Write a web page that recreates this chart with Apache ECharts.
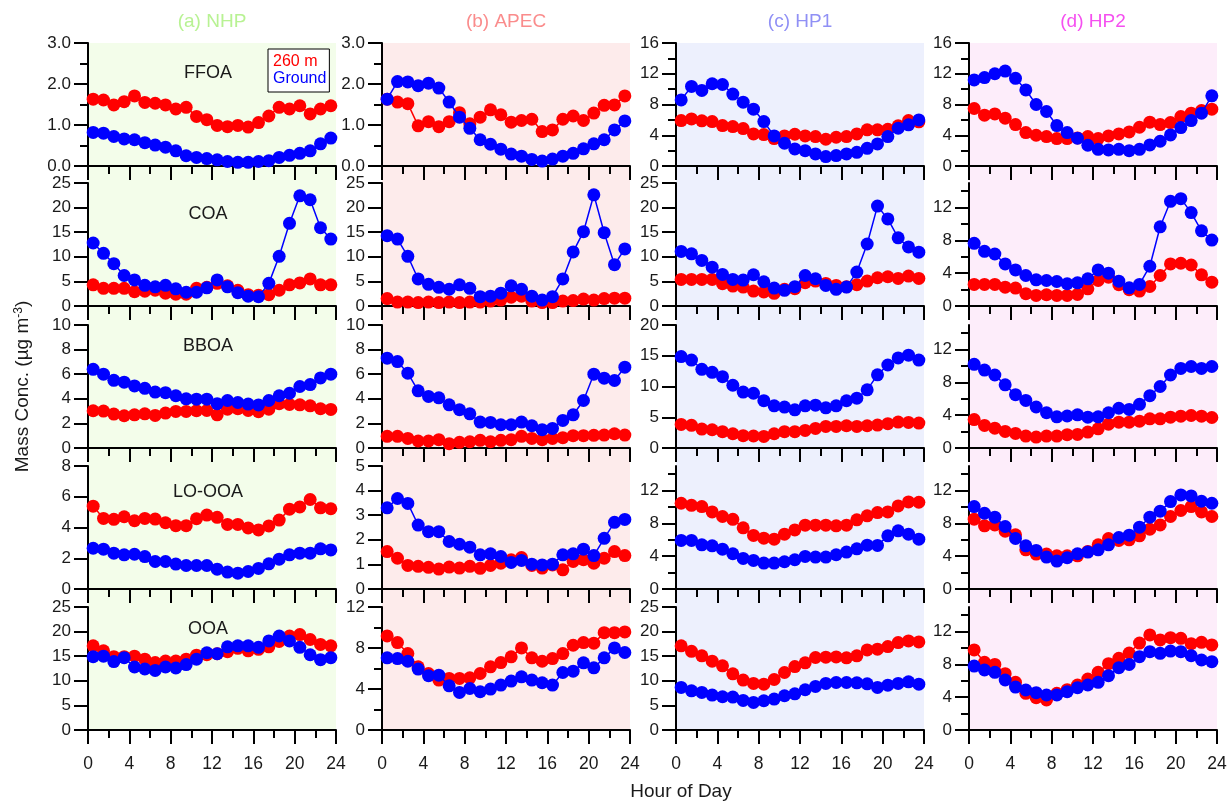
<!DOCTYPE html>
<html><head><meta charset="utf-8">
<script src="https://cdn.jsdelivr.net/npm/echarts@6/dist/echarts.min.js"></script>
<style>html,body{margin:0;padding:0;background:#fff}#c{width:1232px;height:801px}</style>
</head><body><div id="c"></div>
<script>
// ---------------- data ----------------
const hours = [0.5,1.5,2.5,3.5,4.5,5.5,6.5,7.5,8.5,9.5,10.5,11.5,12.5,13.5,14.5,15.5,16.5,17.5,18.5,19.5,20.5,21.5,22.5,23.5];
const siteNames = ['(a) NHP','(b) APEC','(c) HP1','(d) HP2'];
const factorNames = ['FFOA','COA','BBOA','LO-OOA','OOA'];
const seriesNames = ['260 m','Ground'];
const xMajorTicks = [0,4,8,12,16,20,24];
const xMinorTicks = [2,6,10,14,18,22];

// NHP
const NHP_FFOA_260 = [1.63,1.61,1.49,1.57,1.71,1.55,1.53,1.49,1.39,1.43,1.21,1.13,0.99,0.96,0.99,0.95,1.06,1.22,1.43,1.39,1.47,1.27,1.39,1.47];
const NHP_FFOA_GRD = [0.82,0.80,0.72,0.66,0.64,0.57,0.51,0.46,0.37,0.25,0.21,0.18,0.15,0.11,0.09,0.09,0.11,0.13,0.21,0.26,0.31,0.37,0.54,0.68];
const NHP_COA_260 = [4.3,3.6,3.6,3.6,2.9,3.0,3.2,2.6,2.4,2.4,3.6,3.8,4.6,4.1,3.2,2.3,2.2,2.3,3.2,4.3,4.7,5.5,4.3,4.3];
const NHP_COA_GRD = [12.8,10.7,8.6,6.2,5.3,4.2,3.9,4.2,3.5,2.8,2.8,3.7,5.3,3.9,2.7,2.0,1.9,4.6,10.1,16.8,22.4,21.6,15.9,13.6];
const NHP_BBOA_260 = [3.03,3.0,2.76,2.62,2.7,2.78,2.65,2.84,2.97,2.97,3.03,3.05,2.7,3.16,3.2,3.05,2.95,3.16,3.6,3.54,3.51,3.43,3.19,3.14];
const NHP_BBOA_GRD = [6.4,6.0,5.5,5.35,5.05,4.85,4.55,4.5,4.25,4.0,3.97,3.97,3.6,3.86,3.7,3.57,3.5,3.86,4.25,4.45,5.0,5.16,5.7,6.0];
const NHP_LOOOA_260 = [5.39,4.59,4.53,4.7,4.44,4.59,4.55,4.31,4.12,4.12,4.57,4.81,4.66,4.2,4.2,3.97,3.84,4.1,4.48,5.19,5.34,5.82,5.28,5.22];
const NHP_LOOOA_GRD = [2.65,2.59,2.33,2.22,2.26,2.11,1.79,1.79,1.62,1.53,1.53,1.53,1.29,1.1,1.03,1.14,1.34,1.64,1.94,2.22,2.33,2.33,2.61,2.54];
const NHP_OOA_260 = [17.1,16.1,14.9,14.9,15.0,14.4,13.7,14.0,14.0,14.4,15.2,15.3,15.5,15.9,16.6,16.1,16.4,16.9,18.0,19.1,19.4,18.4,17.4,17.1];
const NHP_OOA_GRD = [14.9,15.0,13.9,14.7,12.8,12.4,12.1,12.8,12.6,13.3,14.4,15.7,15.5,16.9,17.1,17.1,16.8,18.1,19.1,18.1,16.8,15.3,14.3,14.7];
// APEC
const APEC_FFOA_260 = [1.63,1.56,1.52,0.98,1.08,0.96,1.08,1.30,1.03,1.19,1.37,1.25,1.07,1.11,1.14,0.84,0.88,1.14,1.22,1.11,1.29,1.48,1.49,1.71];
const APEC_FFOA_GRD = [1.63,2.06,2.05,1.96,2.02,1.90,1.56,1.19,0.92,0.64,0.53,0.41,0.29,0.24,0.16,0.12,0.17,0.24,0.31,0.42,0.54,0.64,0.88,1.10];
const APEC_COA_260 = [1.5,0.8,0.8,0.7,0.8,0.7,0.8,0.7,0.8,0.8,1.0,1.2,1.8,2.0,1.0,0.7,0.7,1.0,1.1,1.4,1.2,1.5,1.6,1.6];
const APEC_COA_GRD = [14.3,13.6,10.1,5.5,4.4,3.8,3.4,4.3,3.6,1.9,2.0,2.6,4.1,3.4,2.0,1.2,1.9,5.5,11.0,15.1,22.6,14.9,8.4,11.6];
const APEC_BBOA_260 = [0.95,0.95,0.78,0.57,0.57,0.68,0.35,0.46,0.51,0.62,0.51,0.62,0.68,0.95,0.78,0.68,0.78,0.84,1.0,1.0,1.03,1.05,1.16,1.05];
const APEC_BBOA_GRD = [7.3,7.03,6.08,4.65,4.19,4.08,3.51,3.11,2.78,2.11,2.08,1.89,1.89,2.11,1.81,1.49,1.59,2.24,2.7,3.86,6.0,5.68,5.49,6.57];
const APEC_LOOOA_260 = [1.52,1.25,0.96,0.92,0.88,0.81,0.89,0.85,0.92,0.84,0.96,1.05,1.19,1.28,0.96,0.85,0.98,0.78,1.12,1.19,1.05,1.25,1.52,1.36];
const APEC_LOOOA_GRD = [3.3,3.68,3.48,2.6,2.33,2.33,1.93,1.82,1.7,1.39,1.43,1.32,1.08,1.16,1.01,0.98,1.01,1.39,1.43,1.62,1.36,2.06,2.71,2.83];
const APEC_OOA_260 = [9.18,8.53,7.46,6.16,5.51,4.87,5.03,5.03,5.09,5.51,6.16,6.58,7.14,8.01,7.04,6.71,6.97,7.46,8.27,8.53,8.47,9.5,9.5,9.57];
const APEC_OOA_GRD = [7.04,6.97,6.71,5.94,5.29,5.35,4.31,3.67,4.05,3.73,3.99,4.38,4.77,5.19,4.87,4.61,4.38,5.61,5.74,6.55,6.07,7.04,8.01,7.56];
// HP1
const HP1_FFOA_260 = [5.91,6.13,5.87,5.78,5.26,5.13,4.87,4.17,4.09,3.57,3.91,4.13,3.91,3.83,3.48,3.74,3.83,4.17,4.7,4.7,4.78,5.22,5.91,5.74];
const HP1_FFOA_GRD = [8.6,10.35,9.83,10.7,10.6,9.35,8.3,7.39,5.78,3.91,2.96,2.22,2.0,1.57,1.22,1.35,1.57,1.78,2.3,2.87,3.83,4.91,5.35,6.0];
const HP1_COA_260 = [5.4,5.4,5.4,5.4,4.53,4.05,3.85,3.04,2.84,2.57,3.38,3.51,4.73,5.07,4.59,4.19,3.92,4.32,5.07,5.74,5.95,5.61,6.08,5.61];
const HP1_COA_GRD = [11.1,10.6,9.26,7.9,6.42,5.4,5.27,6.35,4.93,3.65,3.18,3.92,6.2,5.54,4.19,3.38,3.85,6.89,12.6,20.3,17.7,13.85,12.0,10.95];
const HP1_BBOA_260 = [3.84,3.68,3.08,2.97,2.65,2.32,2.0,1.95,1.89,2.32,2.65,2.65,2.86,3.19,3.51,3.51,3.62,3.51,3.62,3.73,3.95,4.22,4.16,4.05];
const HP1_BBOA_GRD = [14.86,14.3,12.8,12.3,11.6,10.2,9.1,8.9,7.7,6.86,6.65,6.2,6.86,6.97,6.54,6.86,7.68,8.1,9.46,11.9,13.5,14.65,15.1,14.3];
const HP1_LOOOA_260 = [10.46,10.2,10.05,9.4,8.84,8.5,7.46,6.53,6.2,6.08,6.69,7.2,7.78,7.78,7.78,7.7,7.78,8.43,8.92,9.32,9.4,10.13,10.62,10.58];
const HP1_LOOOA_GRD = [5.92,5.92,5.39,5.27,4.86,4.3,3.73,3.49,3.16,3.16,3.32,3.57,3.97,3.89,3.89,4.18,4.5,4.9,5.35,5.31,6.49,7.09,6.69,6.08];
const HP1_OOA_260 = [17.1,16.0,15.07,13.99,13.04,11.42,10.14,9.46,9.32,10.27,11.69,12.9,13.65,14.73,14.8,14.86,14.66,15.07,16.28,16.42,16.96,17.77,18.1,17.9];
const HP1_OOA_GRD = [8.65,7.97,7.64,7.09,6.76,6.69,6.01,5.61,5.95,6.28,6.96,7.36,8.18,8.85,9.46,9.66,9.66,9.59,9.39,8.65,9.12,9.46,9.8,9.32];
// HP2
const HP2_FFOA_260 = [7.48,6.61,6.78,6.22,5.39,4.35,4.0,3.83,3.57,3.57,3.65,3.83,3.57,3.91,4.17,4.43,5.04,5.7,5.39,5.65,6.43,6.87,7.22,7.39];
const HP2_FFOA_GRD = [11.2,11.5,12.0,12.35,11.4,9.9,8.0,7.09,5.26,4.35,3.61,2.7,2.17,2.09,2.17,2.0,2.17,2.74,3.22,4.04,5.0,5.91,6.87,9.13];
const HP2_COA_260 = [2.63,2.63,2.63,2.3,2.18,1.5,1.29,1.37,1.29,1.29,1.41,2.1,3.11,3.52,2.59,1.98,1.82,2.38,3.72,5.13,5.21,5.0,3.8,2.91];
const HP2_COA_GRD = [7.64,6.67,6.34,5.13,4.4,3.72,3.19,3.11,2.99,2.71,2.83,3.31,4.4,4.0,3.03,2.22,2.63,4.85,9.66,12.77,13.09,11.39,9.17,8.04];
const HP2_BBOA_260 = [3.47,2.75,2.42,2.02,1.78,1.45,1.33,1.45,1.45,1.62,1.66,1.94,2.34,2.91,3.15,3.15,3.27,3.56,3.56,3.76,3.88,3.96,3.88,3.72];
const HP2_BBOA_GRD = [10.2,9.5,8.9,7.7,6.5,5.8,5.0,4.3,3.8,3.9,4.04,3.76,3.8,4.3,4.85,4.7,5.33,6.38,7.5,8.9,9.7,9.94,9.7,9.94];
const HP2_LOOOA_260 = [8.51,7.7,7.82,7.05,6.61,4.78,4.26,4.26,4.05,4.05,4.05,4.58,5.39,6.16,5.92,6.0,6.49,7.3,7.82,8.84,9.57,10.05,9.4,8.84];
const HP2_LOOOA_GRD = [10.05,9.24,8.76,7.62,6.16,5.27,4.7,3.89,3.4,3.81,4.3,4.5,4.78,5.39,6.28,6.57,7.54,8.76,9.49,10.66,11.47,11.35,10.7,10.46];
const HP2_OOA_260 = [9.76,8.25,8.0,6.87,5.81,4.47,3.94,3.66,4.47,4.92,5.49,6.22,7.03,8.09,8.74,9.39,10.6,11.59,10.98,11.26,11.18,10.53,10.69,10.37];
const HP2_OOA_GRD = [7.8,7.32,7.03,6.1,5.24,4.88,4.55,4.27,4.27,4.67,5.16,5.49,5.81,6.63,7.6,8.0,8.94,9.55,9.35,9.63,9.55,9.07,8.54,8.33];

// y-axis ranges and tick labels, [site][factor]
const yMax = [[3,25,10,8,25],[3,25,10,5,12],[16,25,20,15,25],[16,15,15,15,15]];
const yMajor = [
  [[0,1,2,3],[0,5,10,15,20,25],[0,2,4,6,8,10],[0,2,4,6,8],[0,5,10,15,20,25]],
  [[0,1,2,3],[0,5,10,15,20,25],[0,2,4,6,8,10],[0,1,2,3,4,5],[0,4,8,12]],
  [[0,4,8,12,16],[0,5,10,15,20,25],[0,5,10,15,20],[0,4,8,12],[0,5,10,15,20,25]],
  [[0,4,8,12,16],[0,4,8,12],[0,4,8,12],[0,4,8,12],[0,4,8,12]]
];
const yMinor = [
  [[0.5,1.5,2.5],[],[],[],[]],
  [[0.5,1.5,2.5],[],[],[],[2,6,10]],
  [[2,6,10,14],[],[],[2,6,10,14],[]],
  [[2,6,10,14],[2,6,10,14],[2,6,10,14],[2,6,10,14],[2,6,10,14]]
];

const values260 = [
  [NHP_FFOA_260,NHP_COA_260,NHP_BBOA_260,NHP_LOOOA_260,NHP_OOA_260],
  [APEC_FFOA_260,APEC_COA_260,APEC_BBOA_260,APEC_LOOOA_260,APEC_OOA_260],
  [HP1_FFOA_260,HP1_COA_260,HP1_BBOA_260,HP1_LOOOA_260,HP1_OOA_260],
  [HP2_FFOA_260,HP2_COA_260,HP2_BBOA_260,HP2_LOOOA_260,HP2_OOA_260]
];
const valuesGrd = [
  [NHP_FFOA_GRD,NHP_COA_GRD,NHP_BBOA_GRD,NHP_LOOOA_GRD,NHP_OOA_GRD],
  [APEC_FFOA_GRD,APEC_COA_GRD,APEC_BBOA_GRD,APEC_LOOOA_GRD,APEC_OOA_GRD],
  [HP1_FFOA_GRD,HP1_COA_GRD,HP1_BBOA_GRD,HP1_LOOOA_GRD,HP1_OOA_GRD],
  [HP2_FFOA_GRD,HP2_COA_GRD,HP2_BBOA_GRD,HP2_LOOOA_GRD,HP2_OOA_GRD]
];

// ---------------- layout & style ----------------
const FONT = '"Liberation Sans", Arial, Helvetica, sans-serif';
const colLeft = [88, 382, 676, 969];
const W = 248;
const rowTop = [43, 183, 325, 466, 607];
const H = 123;
const labelOffset = [30, 31, 21, 26, 22];
const bgColors = ['#f3fdea', '#fdebeb', '#edf0fd', '#fdedfa'];
const titleColors = ['#b8f293', '#fa8c8c', '#9090f5', '#f550f0'];
const RED = '#ff0000', BLUE = '#0000ff';
const TXT = '#1a1a1a';

const option = {
  animation: false,
  backgroundColor: '#ffffff',
  grid: [], xAxis: [], yAxis: [], series: [], graphic: [],
  legend: {
    orient: 'vertical', left: 268, top: 49,
    itemWidth: 0, itemHeight: 0, itemGap: 1, icon: 'rect',
    padding: [5, 3, 5, 0],
    borderColor: '#000', borderWidth: 1, backgroundColor: '#ffffff',
    selectedMode: false,
    textStyle: { fontSize: 16, fontFamily: FONT },
    data: [
      { name: seriesNames[0], textStyle: { color: RED } },
      { name: seriesNames[1], textStyle: { color: BLUE } }
    ]
  }
};

for (let c = 0; c < 4; c++) {
  option.graphic.push({
    type: 'rect', silent: true, z: -100,
    shape: { x: colLeft[c], y: rowTop[0], width: W, height: rowTop[4] + H - rowTop[0] },
    style: { fill: bgColors[c] }
  });
  option.graphic.push({
    type: 'text', x: colLeft[c] + W / 2, y: 22,
    style: { text: siteNames[c], fill: titleColors[c], fontSize: 19, fontFamily: FONT, align: 'center', verticalAlign: 'middle' }
  });
  for (let r = 0; r < 5; r++) {
    const gi = option.grid.length;
    option.grid.push({ left: colLeft[c], top: rowTop[r], width: W, height: H });
    const xi = option.xAxis.length;
    const lineStyle = { color: '#000', width: 2 };
    option.xAxis.push({
      type: 'value', gridIndex: gi, min: 0, max: 24, position: 'bottom',
      axisLine: { show: true, onZero: false, lineStyle },
      axisTick: { show: true, customValues: xMajorTicks, length: 14, lineStyle },
      axisLabel: { show: r === 4, customValues: xMajorTicks, margin: 25, fontSize: 17.5, color: TXT, fontFamily: FONT },
      splitLine: { show: false }
    });
    option.xAxis.push({
      type: 'value', gridIndex: gi, min: 0, max: 24, position: 'bottom',
      axisLine: { show: false, onZero: false },
      axisTick: { show: true, customValues: xMinorTicks, length: 8, lineStyle },
      axisLabel: { show: false },
      splitLine: { show: false }
    });
    const yi = option.yAxis.length;
    const dec = yMax[c][r] <= 3 ? 1 : 0;
    const yMain = {
      type: 'value', gridIndex: gi, min: 0, max: yMax[c][r], position: 'left',
      axisLine: { show: true, onZero: false, lineStyle },
      axisTick: { show: true, customValues: yMajor[c][r], length: 14, lineStyle },
      axisLabel: { show: true, customValues: yMajor[c][r], margin: 17, fontSize: 17, color: TXT, fontFamily: FONT,
                   formatter: v => Number(v).toFixed(dec) },
      splitLine: { show: false }
    };
    if (c === 0 && r === 2) {
      yMain.name = 'Mass Conc. (µg m{sup|-3})';
      yMain.nameLocation = 'middle';
      yMain.nameRotate = 90;
      yMain.nameGap = 56;
      yMain.nameTextStyle = { fontSize: 19, color: TXT, fontFamily: FONT,
        rich: { sup: { fontSize: 12, color: TXT, fontFamily: FONT, verticalAlign: 'top' } } };
    }
    option.yAxis.push(yMain);
    option.yAxis.push({
      type: 'value', gridIndex: gi, min: 0, max: yMax[c][r], position: 'left',
      axisLine: { show: false, onZero: false },
      axisTick: { show: yMinor[c][r].length > 0, customValues: yMinor[c][r], length: 8, lineStyle },
      axisLabel: { show: false },
      splitLine: { show: false }
    });
    const mk = (name, arr, color, z) => ({
      name, type: 'line', xAxisIndex: xi, yAxisIndex: yi, z,
      data: hours.map((h, i) => [h, arr[i]]),
      symbol: 'circle', symbolSize: 13, showSymbol: true,
      lineStyle: { color, width: 1.5 },
      itemStyle: { color, borderWidth: 0 },
      emphasis: { disabled: true }
    });
    option.series.push(mk(seriesNames[0], values260[c][r], RED, 3));
    option.series.push(mk(seriesNames[1], valuesGrd[c][r], BLUE, 4));
    if (c === 0) {
      option.graphic.push({
        type: 'text', x: colLeft[0] + 120, y: rowTop[r] + labelOffset[r],
        style: { text: factorNames[r], fill: TXT, fontSize: 18, fontFamily: FONT, align: 'center', verticalAlign: 'middle' }
      });
    }
  }
}
option.graphic.push({
  type: 'text', x: 681, y: 792,
  style: { text: 'Hour of Day', fill: TXT, fontSize: 19, fontFamily: FONT, align: 'center', verticalAlign: 'middle' }
});

const chart = echarts.init(document.getElementById('c'), null, { renderer: 'canvas' });
chart.setOption(option);
</script>
</body></html>
